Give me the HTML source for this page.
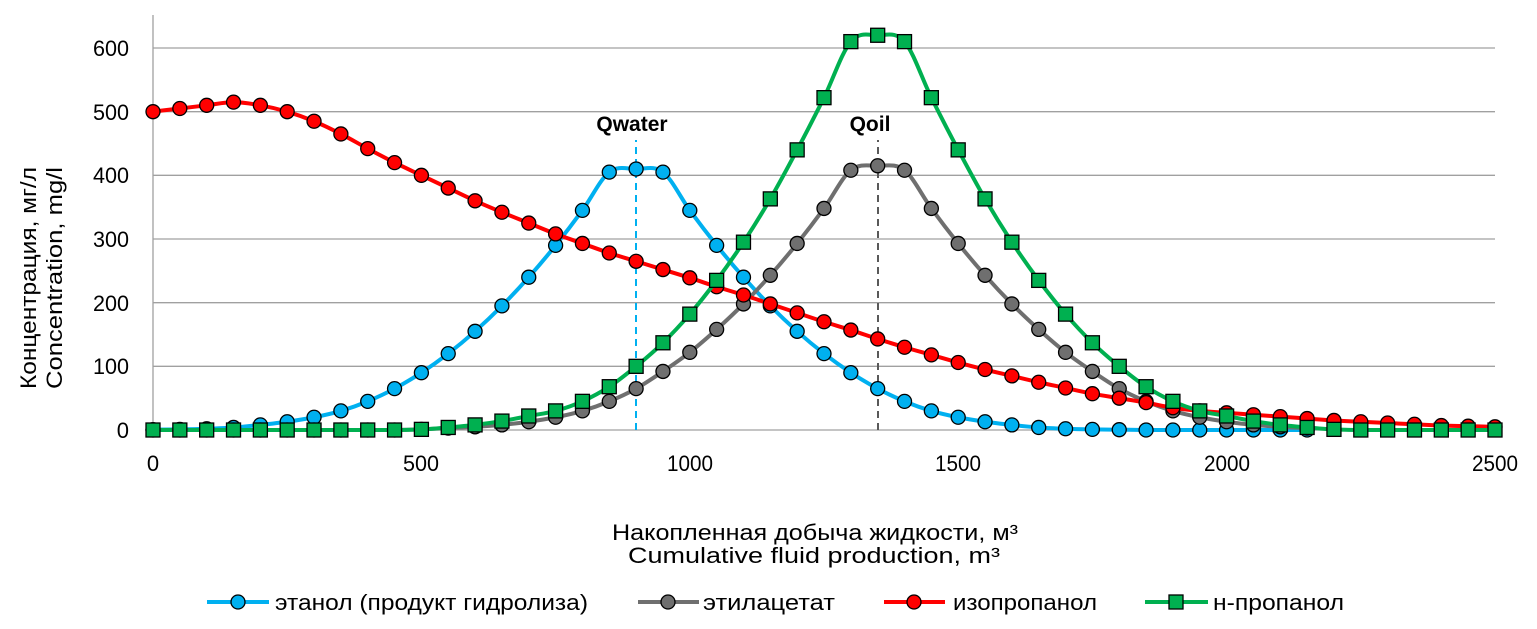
<!DOCTYPE html>
<html><head><meta charset="utf-8"><style>
body{margin:0;background:#fff;}
svg text{font-family:"Liberation Sans",Arial,sans-serif;fill:#000;}
</style></head><body>
<svg id="s" width="1537" height="624" xmlns="http://www.w3.org/2000/svg">
<g id="grid"></g>
<line x1="153" y1="15" x2="153" y2="430" stroke="#a0a0a0" stroke-width="1.3"/>
<g font-size="22" text-anchor="end">
<text x="129" y="438">0</text>
<text x="129" y="374" textLength="36" lengthAdjust="spacingAndGlyphs">100</text>
<text x="129" y="311" textLength="36" lengthAdjust="spacingAndGlyphs">200</text>
<text x="129" y="247" textLength="36" lengthAdjust="spacingAndGlyphs">300</text>
<text x="129" y="183" textLength="36" lengthAdjust="spacingAndGlyphs">400</text>
<text x="129" y="120" textLength="36" lengthAdjust="spacingAndGlyphs">500</text>
<text x="129" y="56" textLength="36" lengthAdjust="spacingAndGlyphs">600</text>
</g>
<g font-size="22" text-anchor="middle">
<text x="153" y="471">0</text>
<text x="421" y="471" textLength="36" lengthAdjust="spacingAndGlyphs">500</text>
<text x="690" y="471" textLength="46" lengthAdjust="spacingAndGlyphs">1000</text>
<text x="958" y="471" textLength="46" lengthAdjust="spacingAndGlyphs">1500</text>
<text x="1227" y="471" textLength="46" lengthAdjust="spacingAndGlyphs">2000</text>
<text x="1495" y="471" textLength="46" lengthAdjust="spacingAndGlyphs">2500</text>
<text x="815" y="540" textLength="406" lengthAdjust="spacingAndGlyphs">Накопленная добыча жидкости, м³</text>
<text x="814" y="563" textLength="372" lengthAdjust="spacingAndGlyphs">Cumulative fluid production, m³</text>
</g>
<g font-size="22" text-anchor="middle">
<text transform="translate(36,278) rotate(-90)" textLength="222" lengthAdjust="spacingAndGlyphs">Концентрация, мг/л</text>
<text transform="translate(62,278) rotate(-90)" textLength="222" lengthAdjust="spacingAndGlyphs">Concentration, mg/l</text>
</g>
<line x1="636" y1="430" x2="636" y2="140" stroke="#00b0f0" stroke-width="2" stroke-dasharray="7,5"/>
<line x1="878" y1="430" x2="878" y2="140" stroke="#595959" stroke-width="2" stroke-dasharray="7,5"/>
<text x="632" y="131" font-size="21" font-weight="bold" text-anchor="middle">Qwater</text>
<text x="870" y="131" font-size="21" font-weight="bold" text-anchor="middle">Qoil</text>
<g id="series"></g>
<g font-size="22">
<line x1="207" y1="602" x2="269" y2="602" stroke="#00b0f0" stroke-width="4"/><circle cx="238" cy="602" r="7" fill="#00b0f0" stroke="#000" stroke-width="1.3"/>
<text x="275" y="610" textLength="313" lengthAdjust="spacingAndGlyphs">этанол (продукт гидролиза)</text>
<line x1="638" y1="602" x2="699" y2="602" stroke="#6f6f6f" stroke-width="4"/><circle cx="668" cy="602" r="7" fill="#6f6f6f" stroke="#000" stroke-width="1.3"/>
<text x="703" y="610" textLength="132" lengthAdjust="spacingAndGlyphs">этилацетат</text>
<line x1="884" y1="602" x2="945" y2="602" stroke="#ff0000" stroke-width="4"/><circle cx="914" cy="602" r="7" fill="#ff0000" stroke="#000" stroke-width="1.3"/>
<text x="953" y="610" textLength="144" lengthAdjust="spacingAndGlyphs">изопропанол</text>
<line x1="1145" y1="602" x2="1208" y2="602" stroke="#00b050" stroke-width="4"/><rect x="1169" y="595" width="14" height="14" fill="#00b050" stroke="#000" stroke-width="1.3"/>
<text x="1213" y="610" textLength="131" lengthAdjust="spacingAndGlyphs">н-пропанол</text>
</g>
</svg>
<script>
var X=function(v){return 153+v*1342/2500},Y=function(v){return 430-v*382/600};
var g=document.getElementById('grid'),h='';
for(var i=0;i<=6;i++){var y=Y(i*100);h+='<line x1="153" x2="1495" y1="'+y+'" y2="'+y+'" stroke="#a0a0a0" stroke-width="1.3"/>';}
g.innerHTML=h;
function sym(c,p,arr,start,end){var o={};o[c]=p;for(var k=0;k<arr.length;k++){o[c-50*(k+1)]=arr[k];o[c+50*(k+1)]=arr[k];}var r=[];for(var x=start;x<=end;x+=50)r.push([x,o[x]||0]);return r;}
var blue=sym(900,410,[405,345,290,240,195,155,120,90,65,45,30,20,13,8,4,2,1,0.5,0,0,0,0,0,0],0,2150);
var gray=sym(1350,415,[408,348,293,243,198,158,122,92,65,45,30,20,13,8,5,3,1,0,0,0,0,0,0,0,0,0,0],0,2150);
var green=sym(1350,620,[610,522,440,363,295,235,182,137,100,68,45,30,22,14,8,4,1,0,0,0,0,0,0,0,0,0,0,0],0,2500);
var rv=[500,505,510,515,510,500,485,465,442,420,400,380,360,342,325,308,293,278,265,252,239,225,212,198,184,170,157,143,130,118,106,95,85,75,66,57,50,43,35,30,27,24,21,18,15,13,11,9,7,6,5];
var red=rv.map(function(v,i){return[i*50,v]});
function path(d){var p=d.map(function(a){return[X(a[0]),Y(a[1])]});var s='M'+p[0][0]+','+p[0][1];
for(var i=0;i<p.length-1;i++){var p0=p[i-1]||p[i],p1=p[i],p2=p[i+1],p3=p[i+2]||p2;
s+=' C'+(p1[0]+(p2[0]-p0[0])/6)+','+(p1[1]+(p2[1]-p0[1])/6)+' '+(p2[0]-(p3[0]-p1[0])/6)+','+(p2[1]-(p3[1]-p1[1])/6)+' '+p2[0]+','+p2[1];}return s;}
var out='';
[[blue,'#00b0f0','c'],[gray,'#6f6f6f','c'],[red,'#ff0000','c'],[green,'#00b050','s']].forEach(function(S){
out+='<path d="'+path(S[0])+'" fill="none" stroke="'+S[1]+'" stroke-width="4"/>';
S[0].forEach(function(a){var x=X(a[0]),y=Y(a[1]);
if(S[2]=='c')out+='<circle cx="'+x+'" cy="'+y+'" r="7" fill="'+S[1]+'" stroke="#000" stroke-width="1.3"/>';
else out+='<rect x="'+(x-7)+'" y="'+(y-7)+'" width="14" height="14" fill="'+S[1]+'" stroke="#000" stroke-width="1.3"/>';});});
document.getElementById('series').innerHTML=out;
</script>
</body></html>
